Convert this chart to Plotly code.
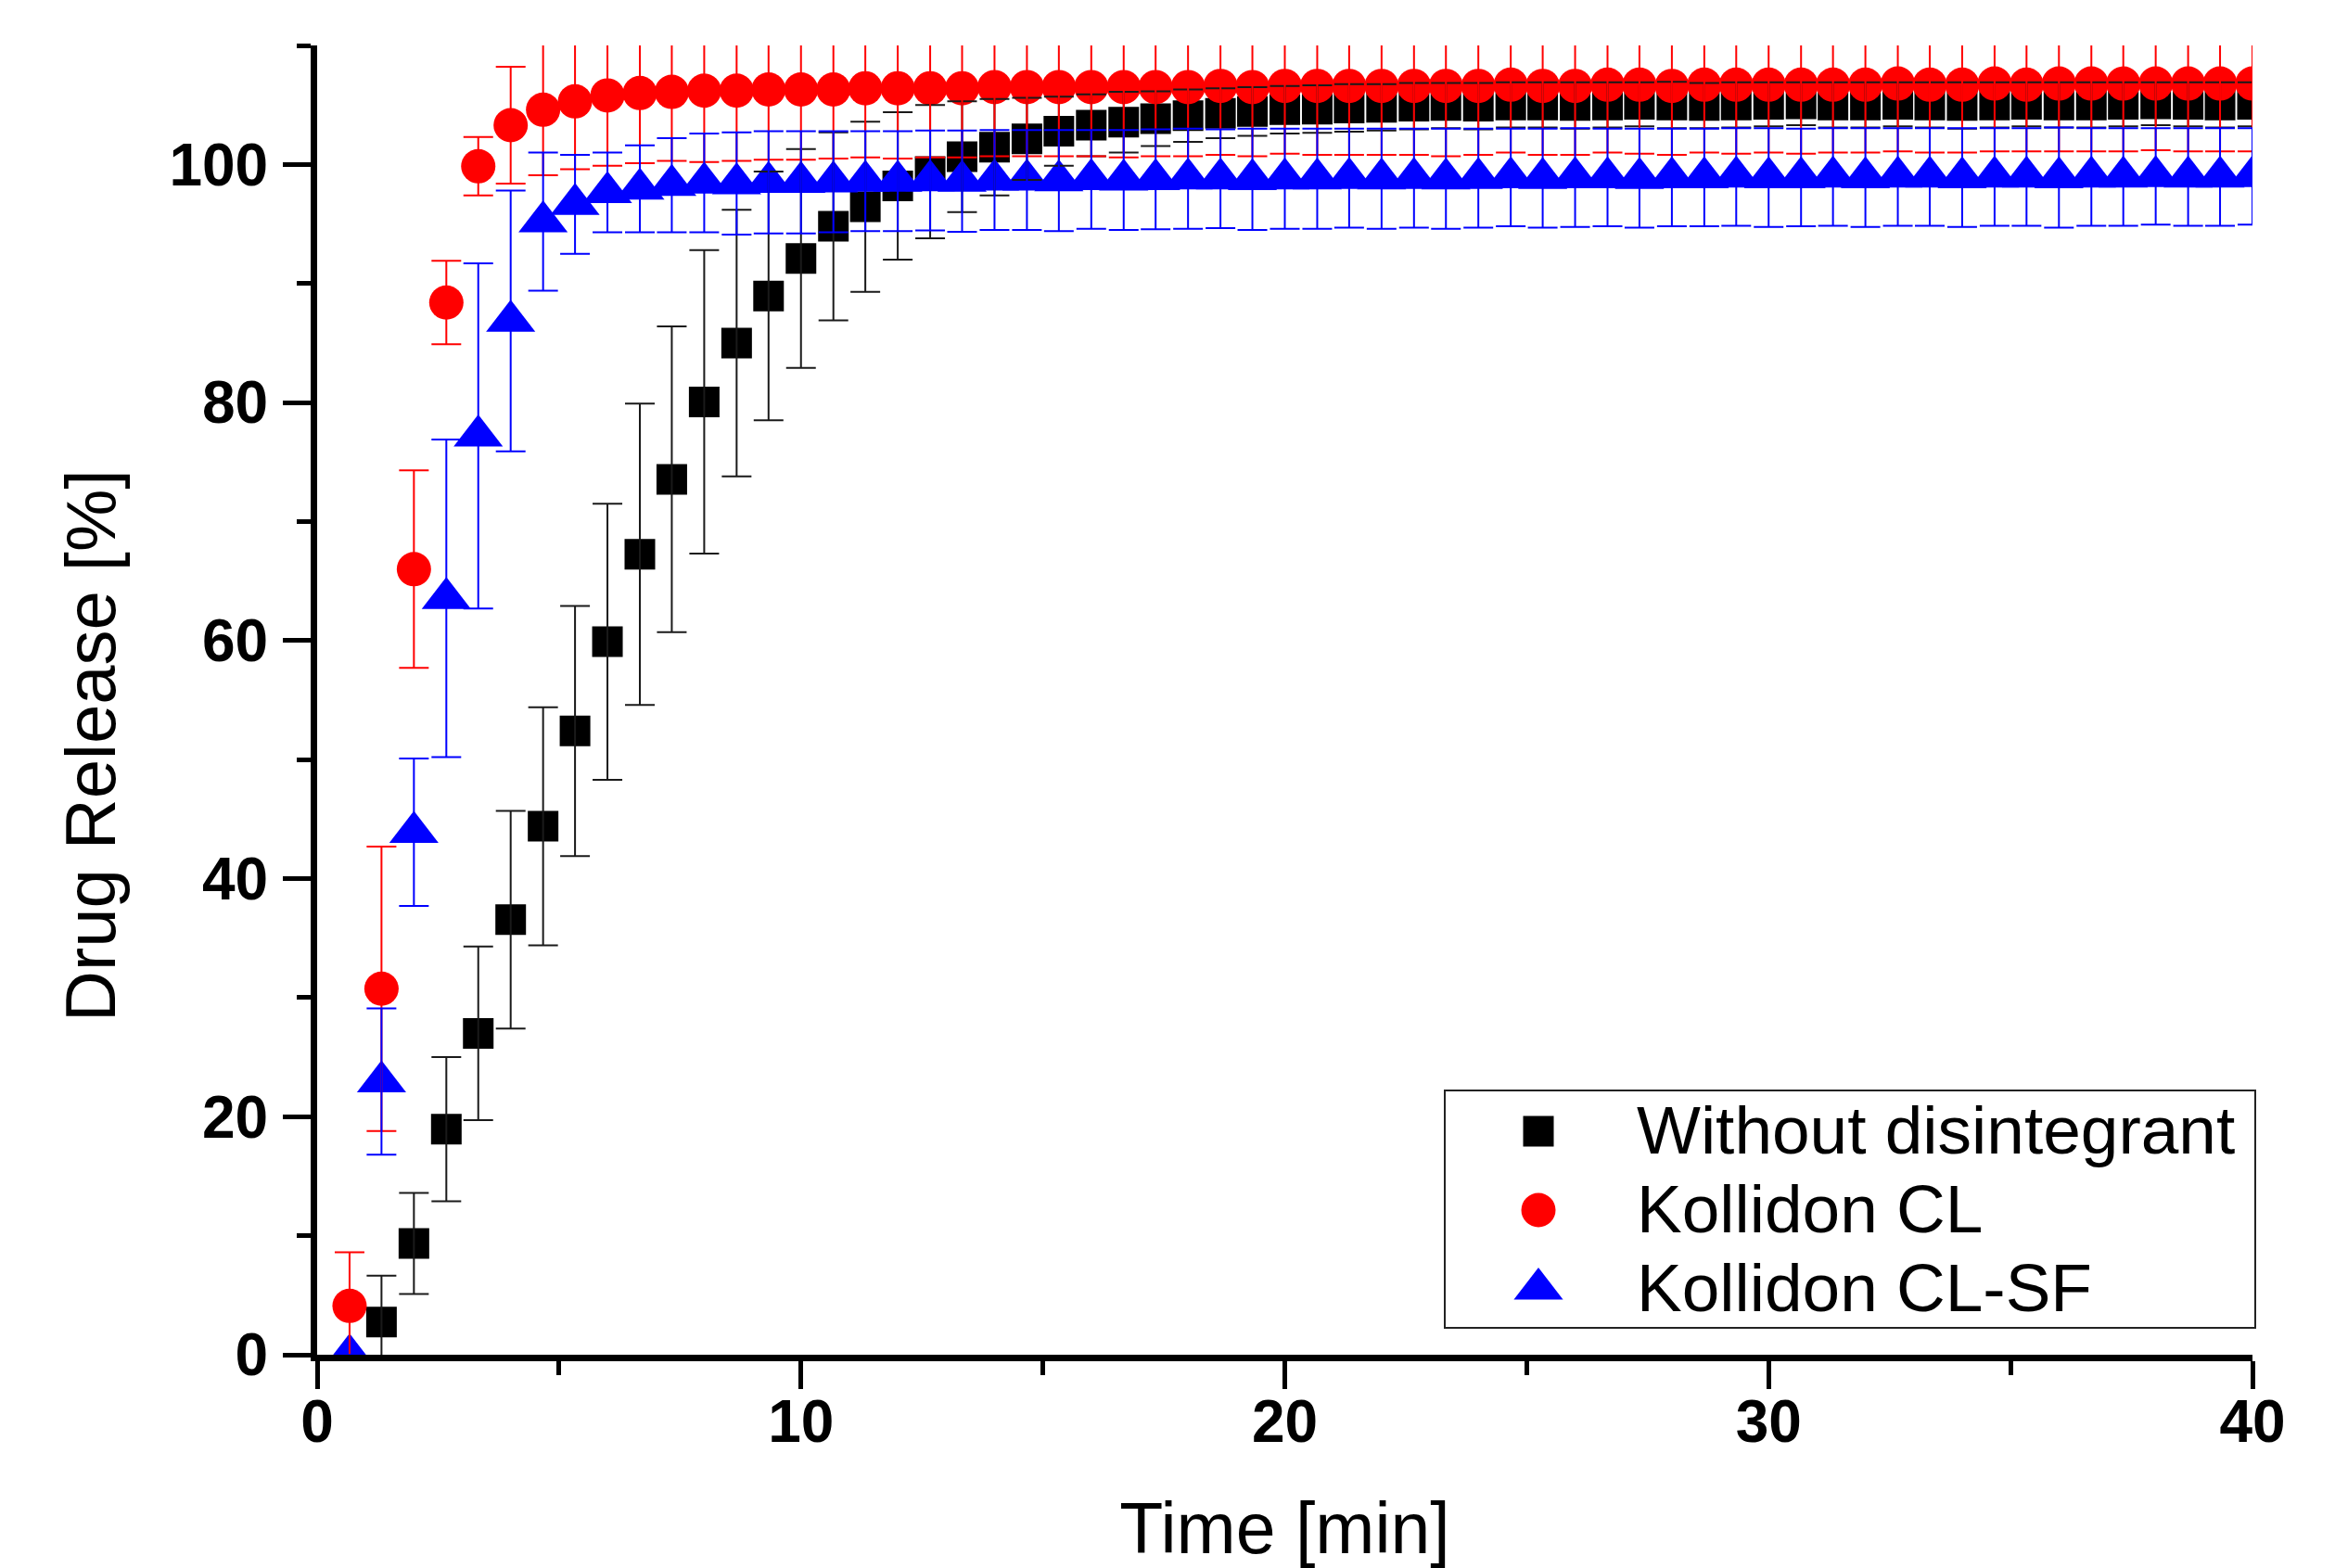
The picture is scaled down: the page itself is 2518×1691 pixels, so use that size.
import plotly.graph_objects as go

# ---------------- data ----------------
time_min = [0.67, 1.33, 2.00, 2.67, 3.33, 4.00, 4.67, 5.33, 6.00, 6.67,
            7.33, 8.00, 8.67, 9.33, 10.00, 10.67, 11.33, 12.00, 12.67, 13.33,
            14.00, 14.67, 15.33, 16.00, 16.67, 17.33, 18.00, 18.67, 19.33, 20.00,
            20.67, 21.33, 22.00, 22.67, 23.33, 24.00, 24.67, 25.33, 26.00, 26.67,
            27.33, 28.00, 28.67, 29.33, 30.00, 30.67, 31.33, 32.00, 32.67, 33.33,
            34.00, 34.67, 35.33, 36.00, 36.67, 37.33, 38.00, 38.67, 39.33, 40.00]

without_mean = [None, 2.75, 9.35, 18.95, 27.0, 36.55, 44.4, 52.4, 59.9, 67.25,
                73.55, 80.05, 85.0, 88.95, 92.1, 94.8, 96.45, 98.2, 99.4, 100.65,
                101.45, 102.15, 102.8, 103.3, 103.55, 103.85, 104.1, 104.3, 104.45, 104.6,
                104.65, 104.75, 104.8, 104.9, 104.95, 104.9, 105.0, 105.0, 104.95, 105.0,
                105.05, 105.0, 104.95, 105.0, 105.05, 105.1, 105.0, 105.0, 105.05, 105.0,
                104.95, 105.0, 105.05, 105.0, 105.0, 105.05, 105.1, 105.05, 105.0, 105.05]
without_sd = [None, 3.9, 4.25, 6.05, 7.3, 9.15, 10.0, 10.5, 11.6, 12.65,
              12.85, 12.75, 11.2, 10.45, 9.2, 7.9, 7.15, 6.2, 5.6, 4.65,
              4.05, 3.45, 2.9, 2.6, 2.55, 2.3, 2.2, 2.1, 2.05, 2.0,
              2.0, 2.0, 1.95, 1.95, 1.9, 1.95, 1.9, 1.9, 1.95, 1.9,
              1.85, 1.95, 1.9, 1.9, 1.85, 1.8, 1.9, 1.9, 1.85, 1.9,
              1.95, 1.9, 1.85, 1.9, 1.9, 1.85, 1.8, 1.85, 1.9, 1.85]

cl_mean = [4.1, 30.75, 66.0, 88.4, 99.85, 103.3, 104.6, 105.3, 105.8, 106.0,
           106.1, 106.2, 106.2, 106.3, 106.3, 106.3, 106.4, 106.4, 106.4, 106.4,
           106.5, 106.5, 106.5, 106.5, 106.5, 106.5, 106.5, 106.6, 106.5, 106.6,
           106.6, 106.6, 106.6, 106.6, 106.6, 106.6, 106.7, 106.6, 106.6, 106.7,
           106.7, 106.6, 106.7, 106.7, 106.7, 106.7, 106.7, 106.7, 106.8, 106.7,
           106.7, 106.8, 106.7, 106.8, 106.8, 106.8, 106.8, 106.8, 106.8, 106.8]
cl_sd = [4.5, 11.95, 8.3, 3.5, 2.45, 4.9, 5.5, 5.7, 5.9, 5.9,
         5.8, 6.0, 5.9, 5.9, 5.9, 5.8, 5.8, 5.9, 5.8, 5.8,
         5.8, 5.8, 5.8, 5.8, 5.9, 5.8, 5.8, 5.8, 5.8, 5.7,
         5.8, 5.8, 5.8, 5.8, 5.9, 5.8, 5.7, 5.8, 5.8, 5.7,
         5.8, 5.8, 5.7, 5.8, 5.7, 5.8, 5.7, 5.7, 5.7, 5.7,
         5.7, 5.7, 5.6, 5.7, 5.7, 5.7, 5.6, 5.7, 5.7, 5.7]

sf_mean = [0.0, 22.95, 43.9, 63.55, 77.2, 86.85, 95.2, 96.65, 97.65, 97.95,
           98.25, 98.45, 98.4, 98.5, 98.5, 98.55, 98.6, 98.6, 98.65, 98.6,
           98.7, 98.7, 98.65, 98.75, 98.7, 98.75, 98.8, 98.8, 98.75, 98.8,
           98.8, 98.85, 98.8, 98.85, 98.8, 98.85, 98.9, 98.85, 98.9, 98.9,
           98.85, 98.9, 98.9, 98.95, 98.9, 98.9, 98.95, 98.9, 98.95, 98.95,
           98.9, 98.95, 98.95, 98.9, 98.95, 98.95, 99.0, 98.95, 98.95, 99.0]
sf_sd = [0.0, 6.15, 6.2, 13.35, 14.5, 10.95, 5.8, 4.15, 3.35, 3.65,
         3.95, 4.15, 4.3, 4.3, 4.3, 4.25, 4.2, 4.2, 4.2, 4.25,
         4.2, 4.2, 4.25, 4.15, 4.2, 4.2, 4.2, 4.15, 4.25, 4.2,
         4.2, 4.15, 4.2, 4.15, 4.2, 4.15, 4.1, 4.15, 4.15, 4.1,
         4.15, 4.1, 4.1, 4.1, 4.15, 4.1, 4.1, 4.15, 4.1, 4.1,
         4.15, 4.1, 4.1, 4.2, 4.1, 4.1, 4.05, 4.1, 4.1, 4.05]

series_names = ["Without disintegrant", "Kollidon CL", "Kollidon CL-SF"]
x_tick_values = [0, 10, 20, 30, 40]
y_tick_values = [0, 20, 40, 60, 80, 100]

# ---------------- styling ----------------
FONT = "Liberation Sans, Arial, Helvetica, sans-serif"
W, H = 2518, 1691
ML, MR, MT, MB = 342, 89, 49, 230
PW, PH = W - ML - MR, H - MT - MB

styles = [
    dict(color="#000000", ecolor="#1a1a1a", symbol="square", size=33),
    dict(color="#ff0000", ecolor="#ff0000", symbol="circle", size=37),
    dict(color="#0000ff", ecolor="#0000ff", symbol="triangle-up", size=46),
]
means = [without_mean, cl_mean, sf_mean]
sds = [without_sd, cl_sd, sf_sd]

fig = go.Figure()

# markers
for name, m, st in zip(series_names, means, styles):
    fig.add_trace(go.Scatter(
        x=time_min, y=m, mode="markers", name=name, showlegend=False,
        marker=dict(symbol=st["symbol"], size=st["size"], color=st["color"],
                    line=dict(width=0)),
    ))

# error bars drawn on top of all markers
for name, m, sd, st in zip(series_names, means, sds, styles):
    fig.add_trace(go.Scatter(
        x=time_min, y=m, mode="markers", name=name + " SD", showlegend=False,
        hoverinfo="skip",
        marker=dict(size=1, color="rgba(0,0,0,0)"),
        error_y=dict(type="data", array=sd, visible=True, color=st["ecolor"],
                     thickness=2, width=16),
    ))

# ---------------- legend (drawn manually for large symbols) ----------------
def px_to_paper_x(px):
    return (px - ML) / PW

def px_to_paper_y(py):
    return (H - MB - py) / PH

leg_rows_y = [1220, 1305, 1390]
leg_marker_x = 1659
leg_text_x = 1763

for name, st, ry in zip(series_names, styles, leg_rows_y):
    fig.add_trace(go.Scatter(
        x=[px_to_paper_x(leg_marker_x)], y=[px_to_paper_y(ry)],
        xaxis="x2", yaxis="y2", mode="markers", showlegend=False,
        hoverinfo="skip", cliponaxis=False,
        marker=dict(symbol=st["symbol"], size=st["size"], color=st["color"],
                    line=dict(width=0)),
    ))
    fig.add_annotation(
        x=px_to_paper_x(leg_text_x), y=px_to_paper_y(ry - 2), xref="paper", yref="paper",
        text=name, showarrow=False, xanchor="left", yanchor="middle",
        font=dict(family=FONT, size=73, color="black"),
    )

fig.add_shape(type="rect", xref="paper", yref="paper",
              x0=px_to_paper_x(1558), x1=px_to_paper_x(2432),
              y0=px_to_paper_y(1432), y1=px_to_paper_y(1176),
              line=dict(color="#222222", width=2), fillcolor="rgba(0,0,0,0)")

# y-axis title
fig.add_annotation(
    x=px_to_paper_x(97), y=px_to_paper_y(804), xref="paper", yref="paper",
    text="Drug Release [%]", textangle=-90, showarrow=False,
    xanchor="center", yanchor="middle",
    font=dict(family=FONT, size=76, color="black"),
)

axis_common = dict(
    showgrid=False, zeroline=False, showline=True, linewidth=7, linecolor="black",
    ticks="outside", ticklen=30, tickwidth=5, tickcolor="black",
    tickfont=dict(family=FONT, size=64, color="black", weight="bold"),
    mirror=False, automargin=False,
)

fig.update_layout(
    width=W, height=H,
    margin=dict(l=ML, r=MR, t=MT, b=MB, pad=0),
    paper_bgcolor="white", plot_bgcolor="white",
    showlegend=False,
    xaxis=dict(range=[0, 40], tickmode="array", tickvals=x_tick_values,
               ticklabelstandoff=-20,
               minor=dict(dtick=5, tick0=0, ticks="outside", ticklen=15,
                          tickwidth=5, tickcolor="black", showgrid=False),
               title=dict(text="Time [min]", standoff=56,
                          font=dict(family=FONT, size=77, color="black")),
               **axis_common),
    yaxis=dict(range=[0, 110], tickmode="array", tickvals=y_tick_values,
               ticklabelstandoff=3,
               minor=dict(dtick=10, tick0=0, ticks="outside", ticklen=15,
                          tickwidth=5, tickcolor="black", showgrid=False),
               **axis_common),
    xaxis2=dict(range=[0, 1], overlaying="x", visible=False, fixedrange=True),
    yaxis2=dict(range=[0, 1], overlaying="y", visible=False, fixedrange=True),
)

fig.write_html("out.html",
               config={"displayModeBar": False},
               post_script="document.body.style.margin='0px';document.body.style.overflow='hidden';")
